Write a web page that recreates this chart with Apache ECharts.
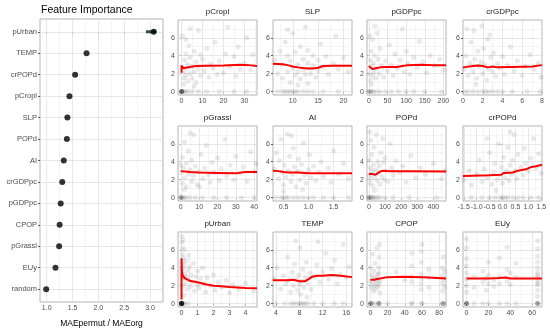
<!DOCTYPE html>
<html><head><meta charset="utf-8">
<script src="https://cdn.jsdelivr.net/npm/echarts@6/dist/echarts.min.js"></script>
<style>html,body{margin:0;padding:0;background:#fff}#c{width:550px;height:333px}</style>
</head><body><div id="c"></div>
<script>
// ---------- Feature importance (left panel) ----------
const importanceLabels = ['pUrban','TEMP','crPOPd','pCropl','SLP','POPd','AI','crGDPpc','pGDPpc','CPOP','pGrassl','EUy','random'];
const importanceValues = [3.07,1.77,1.55,1.44,1.40,1.39,1.33,1.30,1.27,1.25,1.24,1.17,0.99];
const importanceErrLow  = [2.92,null,null,null,null,null,null,null,null,null,null,null,null];
const importanceErrHigh = [3.12,null,null,null,null,null,null,null,null,null,null,null,null];
const importanceTicks = [1,1.5,2,2.5,3];
const importanceMinor = [1.25,1.75,2.25,2.75];

// ---------- Effect panels ----------
const panelNames = ['pCropl','SLP','pGDPpc','crGDPpc','pGrassl','AI','POPd','crPOPd','pUrban','TEMP','CPOP','EUy'];
const panelXRange = [[-1.7,36],[6.1,21.7],[-5,207],[0,8],[-1.5,41.5],[0.29,1.87],[-12,478],[-1.53,1.53],[-0.22,4.72],[3.5,17],[-4,88],[-3.2,69]];
const panelXTicks = [[0,10,20,30],[10,15,20],[0,50,100,150,200],[0,2,4,6,8],[0,10,20,30,40],[0.5,1,1.5],[0,100,200,300,400],[-1.5,-1,-0.5,0,0.5,1,1.5],[0,1,2,3,4],[4,8,12,16],[0,20,40,60,80],[0,20,40,60]];
const panelXMinor = [[5,15,25,35],[7.5,12.5,17.5],[25,75,125,175],[1,3,5,7],[5,15,25,35],[0.75,1.25,1.75],[50,150,250,350,450],[-1.25,-0.75,-0.25,0.25,0.75,1.25],[0.5,1.5,2.5,3.5,4.5],[6,10,14],[10,30,50,70],[10,30,50]];
const panelXDecimals = [0,0,0,0,0,1,0,1,0,0,0,0];
const panelYRange = [-0.38,7.98];
const panelYTicks = [0,2,4,6];
const panelYMinor = [1,3,5,7];

const curve_pCropl = [[0,2.1],[0,2.9],[0.5,2.85],[1,2.6],[2,2.65],[4,2.75],[7,2.85],[12,2.88],[20,2.9],[28,3.0],[32,2.95],[36,2.85]];
const curve_SLP = [[6.1,3.1],[8,3.05],[9,2.95],[10,2.8],[11,2.7],[12,2.62],[13,2.58],[14,2.58],[15,2.65],[16,2.85],[18,2.88],[21.7,2.88]];
const curve_pGDPpc = [[0,2.85],[5,2.7],[10,2.5],[18,2.6],[30,2.7],[50,2.75],[75,2.75],[90,2.85],[105,2.95],[140,3.0],[170,2.95],[207,2.95]];
const curve_crGDPpc = [[0,2.7],[1,2.85],[1.5,2.9],[2,2.85],[2.5,2.7],[3,2.8],[3.5,2.7],[5,2.75],[7,2.8],[8,2.95]];
const curve_pGrassl = [[0,2.95],[1,2.85],[5,2.85],[10,2.8],[20,2.75],[30,2.7],[35,2.85],[41.5,2.85]];
const curve_AI = [[0.29,3.0],[0.4,2.95],[0.5,2.85],[0.6,2.8],[0.8,2.8],[1.0,2.72],[1.3,2.7],[1.87,2.7]];
const curve_POPd = [[0,2.6],[15,2.65],[40,2.55],[70,2.9],[90,3.0],[120,2.95],[250,2.95],[478,2.9]];
const curve_crPOPd = [[-1.53,2.4],[-0.5,2.5],[-0.05,2.55],[0.05,2.75],[0.4,2.8],[0.6,3.0],[0.9,3.15],[1.1,3.4],[1.3,3.5],[1.53,3.65]];
const curve_pUrban = [[0,0.45],[0,5.05],[0.03,3.5],[0.08,3.1],[0.2,2.85],[0.5,2.55],[1,2.37],[1.5,2.15],[2,2.0],[2.5,1.92],[3,1.85],[4,1.75],[4.72,1.7]];
const curve_TEMP = [[3.5,2.6],[6,2.6],[7,2.65],[8,2.5],[9,2.5],[9.5,2.7],[10.2,3.0],[11,3.1],[12,3.1],[13.5,3.2],[15,3.1],[17,2.95]];
const curve_CPOP = [[0,2.65],[2,2.6],[5,2.65],[8,2.75],[10,2.9],[20,2.95],[40,3.0],[60,2.95],[68,2.9],[69,2.8],[88,2.8]];
const curve_EUy = [[0,2.8],[20,2.8],[30,2.85],[36,2.9],[40,2.8],[65,2.8],[69,2.8]];

const pts_pCropl = [[0,0],[0,0],[0,0],[0,0],[0,0],[0,0],[0,0],[0,0],[0.5,0],[1,0],[2,0],[3,0],[5,0],[8,0],[12,0],[18,0],[25,0],[31,0],
[0.5,6.2],[1,1.5],[1,2.2],[1.5,3.5],[2,1.8],[2,4.2],[2.5,2.6],[3,1.2],[3,3.0],[3.5,5.1],[4,2.0],[4,3.8],[5,1.5],[5,2.8],[6,4.5],[6,2.2],[7,1.0],[7,3.3],[8,2.5],[8,6.8],[9,1.8],[10,3.6],[11,2.3],[12,4.8],[13,1.6],[14,3.1],[15,2.6],[16,5.5],[17,1.9],[18,3.4],[20,2.1],[21,4.2],[22,7.2],[23,2.8],[25,3.9],[26,1.7],[27,5.0],[28,2.5],[30,3.2],[31,6.0],[33,2.4],[34,4.1],[1,0.8],[2,5.8],[4,7.0],[6,0.6],[9,4.1]];
const pts_SLP = [[7,0],[8,0],[8.5,0],[9,0],[9.5,0],[10,0],[10.5,0],[11,0],[12,0],[13,0],[14,0],[16,0],[19,0],
[6.5,3.5],[7,2.0],[7.5,4.5],[8,1.5],[8,3.0],[8.5,5.5],[9,2.2],[9,4.0],[9.5,1.0],[9.5,3.4],[10,2.6],[10,6.5],[10.5,1.8],[10.5,4.4],[11,3.0],[11,2.2],[11.5,5.0],[11.5,1.4],[12,3.6],[12,2.4],[12.5,7.2],[12.5,1.9],[13,3.2],[13,4.6],[13.5,2.0],[14,2.9],[14,4.0],[14.5,1.6],[15,3.5],[15,2.3],[15.5,5.3],[16,2.7],[16.5,3.9],[17,1.9],[18,3.1],[18.5,6.2],[19,2.5],[20,3.8],[21,2.2],[9,6.9],[11,0.7],[13,0.9]];
const pts_pGDPpc = [[0,0],[2,0],[5,0],[8,0],[12,0],[20,0],[30,0],[45,0],[60,0],[80,0],[100,0],[120,0],[150,0],[195,0],
[2,2.0],[4,3.5],[5,1.2],[6,4.5],[8,2.8],[10,1.8],[10,5.8],[12,3.2],[14,2.2],[15,4.0],[18,1.5],[20,2.6],[22,6.5],[25,3.6],[28,2.0],[30,4.8],[35,2.9],[40,1.6],[45,3.4],[50,2.3],[55,5.2],[60,3.0],[65,1.8],[70,4.2],[75,2.6],[85,3.5],[90,7.0],[95,2.2],[100,4.5],[105,3.1],[110,1.9],[120,3.8],[130,2.7],[135,5.6],[145,3.3],[155,2.1],[165,4.0],[175,2.9],[190,3.6],[200,2.4],[3,6.2],[7,0.8],[16,7.3]];
const pts_crGDPpc = [[0.2,0],[0.5,0],[1,0],[1.5,0],[2,0],[2.3,0],[2.6,0],[3,0],[3.5,0],[4,0],[5,0],[6.5,0],[7.8,0],
[0.1,2.5],[0.3,4.0],[0.5,1.8],[0.7,3.2],[0.8,5.5],[1,2.2],[1.1,6.8],[1.2,3.6],[1.4,1.5],[1.5,4.5],[1.6,2.8],[1.8,3.3],[1.9,7.3],[2,2.0],[2.1,4.8],[2.2,3.0],[2.4,1.3],[2.5,5.8],[2.6,2.5],[2.8,3.8],[3,2.2],[3.1,4.3],[3.3,1.7],[3.5,3.1],[3.7,2.6],[4,3.9],[4.2,1.9],[4.5,2.9],[4.8,5.0],[5.2,2.3],[5.5,3.4],[6,1.8],[6.3,2.8],[6.8,4.1],[7.2,2.5],[7.6,3.2],[7.9,1.6],[1.3,0.8],[2.7,6.3],[0.4,7.0]];
const pts_pGrassl = [[0,0],[0,0],[0,0],[0.5,0],[1,0],[2,0],[3,0],[5,0],[8,0],[12,0],[18,0],[25,0],[33,0],[40,0],
[0.5,2.8],[1,4.5],[1,1.6],[1.5,3.3],[2,6.2],[2,2.2],[3,3.8],[3,1.2],[4,2.6],[4,5.2],[5,3.1],[6,1.8],[6,4.2],[7,2.4],[7,7.0],[8,3.5],[9,1.5],[10,2.9],[10,1.2],[11,4.8],[12,2.1],[13,3.3],[14,5.8],[15,2.5],[16,1.7],[17,3.9],[18,2.8],[20,4.4],[21,1.9],[22,3.2],[24,6.5],[25,2.4],[27,3.6],[29,2.0],[30,4.6],[32,2.7],[34,3.4],[36,1.8],[38,5.1],[40,2.9],[41,3.8],[0,3.6],[2,0.9],[5,7.2]];
const pts_AI = [[0.35,0],[0.45,0],[0.5,0],[0.55,0],[0.6,0],[0.7,0],[0.8,0],[0.9,0],[1.0,0],[1.1,0],[1.3,0],[1.5,0],[1.8,0],
[0.32,3.2],[0.36,5.0],[0.4,2.1],[0.42,4.1],[0.45,6.5],[0.48,2.8],[0.5,1.4],[0.52,3.6],[0.55,2.3],[0.58,7.1],[0.6,3.0],[0.62,4.6],[0.65,1.8],[0.68,2.6],[0.7,5.5],[0.72,3.4],[0.75,1.2],[0.78,2.9],[0.8,4.3],[0.83,2.0],[0.86,3.7],[0.9,6.1],[0.92,2.5],[0.95,1.6],[1.0,3.1],[1.02,4.8],[1.05,2.2],[1.1,3.5],[1.15,1.9],[1.2,2.8],[1.25,4.0],[1.3,2.4],[1.4,3.3],[1.45,1.7],[1.5,5.2],[1.6,2.6],[1.7,3.8],[1.8,2.1],[0.5,0.7],[0.66,6.9],[0.88,0.9]];
const pts_POPd = [[0,0],[0,0],[3,0],[8,0],[15,0],[22,0],[30,0],[40,0],[55,0],[70,0],[100,0],[150,0],[250,0],[420,0],
[2,2.5],[5,4.2],[8,1.6],[10,3.3],[12,6.4],[15,2.1],[18,4.8],[20,2.9],[25,1.3],[28,3.7],[30,5.6],[35,2.4],[40,3.1],[45,7.0],[50,1.9],[55,4.0],[60,2.7],[65,3.5],[70,1.5],[75,5.0],[80,2.3],[90,3.9],[95,2.0],[100,4.4],[110,3.0],[120,1.8],[130,6.0],[140,3.3],[150,2.5],[170,4.1],[190,2.8],[210,3.5],[230,1.7],[260,4.7],[290,2.2],[320,3.3],[350,2.6],[400,3.8],[450,2.1],[470,3.0],[6,7.3],[33,0.8],[85,6.6]];
const pts_crPOPd = [[-1.2,0],[-0.8,0],[-0.5,0],[-0.3,0],[-0.1,0],[0,0],[0.1,0],[0.2,0],[0.4,0],[0.6,0],[0.8,0],[1.1,0],[1.4,0],
[-1.5,2.0],[-1.3,3.0],[-1.2,1.4],[-1.0,2.6],[-0.9,4.2],[-0.8,1.8],[-0.7,3.2],[-0.6,2.2],[-0.5,5.0],[-0.4,1.5],[-0.35,2.8],[-0.3,3.8],[-0.2,2.0],[-0.15,6.0],[-0.1,2.5],[-0.05,3.4],[0,1.6],[0.05,4.5],[0.1,2.2],[0.15,3.0],[0.2,5.6],[0.25,1.9],[0.3,3.6],[0.35,2.6],[0.4,4.2],[0.45,7.0],[0.5,3.0],[0.55,2.1],[0.6,4.8],[0.7,3.4],[0.8,2.5],[0.85,5.5],[0.9,3.8],[1.0,2.9],[1.1,4.4],[1.2,6.6],[1.3,3.3],[1.4,4.9],[1.5,2.7],[-0.25,0.8],[0.3,7.3],[-0.6,6.6]];
const pts_pUrban = [[0,0],[0,0],[0,0],[0,0],[0,0],[0,0],[0,0],[0,0],[0,0],[0,0],[0,0],[0,0],[0,0],[0,0],[0,0],[0,0],[0,0],[0,0],[0,0],[0,0],[0.02,0],[0.05,0],[0.1,0],[0.2,0],[0.4,0],
[0.02,7.5],[0.03,6.8],[0.05,5.5],[0.05,6.2],[0.08,4.6],[0.1,7.1],[0.1,3.9],[0.12,5.1],[0.15,2.8],[0.18,4.3],[0.2,6.0],[0.2,3.3],[0.25,2.2],[0.3,4.8],[0.3,3.0],[0.35,1.6],[0.4,3.7],[0.45,5.4],[0.5,2.6],[0.5,4.1],[0.55,1.9],[0.6,3.2],[0.7,2.4],[0.75,4.5],[0.8,1.4],[0.9,3.0],[1.0,2.1],[1.0,3.6],[1.1,1.7],[1.2,2.8],[1.3,4.0],[1.4,2.2],[1.5,1.3],[1.6,2.9],[1.8,2.0],[2.0,3.2],[2.1,1.5],[2.3,2.4],[2.5,1.8],[2.8,2.6],[3.0,1.2],[3.2,2.1],[3.6,1.6],[4.0,2.3],[4.5,1.4],[0.15,0.9],[0.05,3.0],[0.08,2.0]];
const pts_TEMP = [[4,0],[5.5,0],[6.5,0],[7,0],[7.5,0],[8,0],[8.3,0],[8.7,0],[9,0],[9.5,0],[10.5,0],[12,0],[14,0],[15.5,0],
[3.7,2.8],[4.2,4.0],[4.8,1.6],[5.3,3.1],[5.7,2.2],[6,5.2],[6.2,2.6],[6.5,1.3],[6.8,3.5],[7,2.0],[7.2,4.4],[7.5,2.7],[7.7,1.5],[7.9,3.2],[8,2.1],[8.1,6.2],[8.2,1.0],[8.4,2.5],[8.6,3.8],[8.8,1.8],[9,2.9],[9.2,4.6],[9.5,2.3],[9.8,3.4],[10,1.6],[10.5,3.0],[11,4.3],[11.5,2.4],[12,3.5],[12.5,5.6],[13,2.7],[13.5,3.9],[14,4.8],[14.5,2.2],[15,3.3],[15.5,6.6],[16,2.9],[16.5,4.1],[7.4,7.0],[9.3,0.7],[11.2,6.9]];
const pts_CPOP = [[0,0],[0,0],[0,0],[0,0],[1,0],[2,0],[5,0],[9,0],[10,0],[10,0],[10,0],[10,0],[20,0],[48,0],[48,0],[60,0],[60,0],[84,0],[84,0],[84,0],[85,0],[86,0],
[0,2.5],[0.5,4.0],[1,1.8],[1.5,3.2],[2,2.2],[2.5,5.5],[3,2.8],[3.5,1.4],[4,3.6],[4.5,2.0],[5,2.6],[5.5,4.5],[6,1.6],[6.5,3.0],[7,2.3],[7.5,6.2],[8,1.9],[8.5,3.3],[9,2.7],[9.5,4.0],[10,2.1],[10,3.4],[10,5.2],[10.5,6.6],[11,2.5],[11,1.2],[48,2.4],[48,4.2],[48,5.6],[48,3.0],[59,2.2],[59,3.3],[59,4.6],[59,5.8],[59,1.6],[60,2.8],[60,6.6],[68,2.9],[68,3.8],[68,1.8],[84,1.4],[84,2.3],[84,3.1],[84,4.0],[85,2.7],[85,5.2],[86,3.6],[86,1.9],[30,3.5],[40,2.6]];
const pts_EUy = [[0,0],[0,0],[0,0],[0,0],[0,0],[0,0],[7,0],[15,0],[20,0],[30,0],[37,0],[45,0],[65,0],[65,0],[65,0],[65,0],[65,0],
[0,1.3],[0,2.0],[0,2.7],[0,3.4],[0,4.2],[0,5.0],[0,6.2],[0,7.2],[7,3.0],[7,1.8],[15,2.4],[15,3.6],[18,1.5],[18,2.8],[20,2.2],[20,3.2],[20,4.6],[25,2.6],[25,1.9],[30,3.0],[30,2.2],[30,5.1],[37,2.5],[37,3.8],[37,6.3],[40,2.1],[40,3.4],[45,2.9],[45,4.5],[65,0.8],[65,1.5],[65,2.1],[65,2.6],[65,3.0],[65,3.5],[65,4.0],[65,4.6],[65,5.3],[65,6.1],[65,7.0],[65,2.3],[65,3.2]];

const panelCurves = [curve_pCropl,curve_SLP,curve_pGDPpc,curve_crGDPpc,curve_pGrassl,curve_AI,curve_POPd,curve_crPOPd,curve_pUrban,curve_TEMP,curve_CPOP,curve_EUy];
const panelPoints = [pts_pCropl,pts_SLP,pts_pGDPpc,pts_crGDPpc,pts_pGrassl,pts_AI,pts_POPd,pts_crPOPd,pts_pUrban,pts_TEMP,pts_CPOP,pts_EUy];

// ---------- layout ----------
const FONT = 'Liberation Sans, Arial, sans-serif';
const MAJOR = '#dcdcdc', MINOR = '#ededed', BORDER = '#b3b3b3', LABEL = '#4d4d4d';
const colLeft = [178, 273, 367, 463], rowTop = [20, 126, 232], PW = 79, PH = 75;

const grids = [], xAxes = [], yAxes = [], series = [], titles = [];
function vLines(major, minor){
  return minor.map(v=>({xAxis:v, lineStyle:{color:MINOR,width:0.6,type:'solid'}})).concat(major.map(v=>({xAxis:v, lineStyle:{color:MAJOR,width:0.7,type:'solid'}})));
}
function hLines(major, minor){
  return minor.map(v=>({yAxis:v, lineStyle:{color:MINOR,width:0.6,type:'solid'}})).concat(major.map(v=>({yAxis:v, lineStyle:{color:MAJOR,width:0.7,type:'solid'}})));
}
const mlBase = {silent:true, symbol:'none', label:{show:false}, animation:false, z:1, lineStyle:{type:'solid'}};

titles.push({text:'Feature Importance', left:41, top:5, padding:0, textStyle:{fontFamily:FONT, fontSize:10.5, fontWeight:'normal', color:'#000'}});
grids.push({left:40, top:19, width:123, height:288, show:true, borderColor:BORDER, borderWidth:1});
const catIdx = importanceLabels.map((_,i)=>i);
xAxes.push({gridIndex:0, type:'value', min:0.87, max:3.25,
  axisLine:{show:false}, splitLine:{show:false},
  axisTick:{show:true, customValues:importanceTicks, length:2, lineStyle:{color:'#333', width:0.8}},
  axisLabel:{customValues:importanceTicks, formatter:v=>v.toFixed(1), fontSize:7, color:LABEL, margin:3, fontFamily:FONT},
  name:'MAEpermut / MAEorg', nameLocation:'middle', nameGap:17, nameTextStyle:{fontSize:8.5, color:'#000', fontFamily:FONT}});
yAxes.push({gridIndex:0, type:'value', inverse:true, min:-0.6, max:12.6,
  axisLine:{show:false}, splitLine:{show:false},
  axisTick:{show:true, customValues:catIdx, length:2, lineStyle:{color:'#333', width:0.8}},
  axisLabel:{customValues:catIdx, formatter:v=>importanceLabels[Math.round(v)], fontSize:7.5, color:LABEL, margin:3, fontFamily:FONT}});
series.push({type:'scatter', xAxisIndex:0, yAxisIndex:0, symbolSize:6, itemStyle:{color:'#000'}, z:4,
  data: importanceValues.map((v,i)=>[v,i]),
  markLine:Object.assign({}, mlBase, {data: vLines(importanceTicks, importanceMinor).concat(hLines(catIdx, []))})});
importanceErrLow.forEach((lo,i)=>{
  if(lo==null) return;
  series.push({type:'line', xAxisIndex:0, yAxisIndex:0, showSymbol:false, symbol:'none', z:3,
    lineStyle:{color:'#2f4f4f', width:3}, data:[[lo,i],[importanceErrHigh[i],i]]});
});

panelNames.forEach((name,p)=>{
  const gi = p+1;
  const L = colLeft[p%4], T = rowTop[Math.floor(p/4)];
  grids.push({left:L, top:T, width:PW, height:PH, show:true, borderColor:BORDER, borderWidth:1});
  titles.push({text:name, left:L+PW/2, top:T-12, padding:0, textAlign:'center', textStyle:{fontFamily:FONT, fontSize:8, fontWeight:'normal', color:'#1a1a1a'}});
  const dec = panelXDecimals[p];
  xAxes.push({gridIndex:gi, type:'value', min:panelXRange[p][0], max:panelXRange[p][1],
    axisLine:{show:false}, splitLine:{show:false},
    axisTick:{show:true, customValues:panelXTicks[p], length:2, lineStyle:{color:'#333', width:0.8}},
    axisLabel:{customValues:panelXTicks[p], formatter:v=>v.toFixed(dec), fontSize:7, color:LABEL, margin:3, fontFamily:FONT}});
  yAxes.push({gridIndex:gi, type:'value', min:panelYRange[0], max:panelYRange[1],
    axisLine:{show:false}, splitLine:{show:false},
    axisTick:{show:true, customValues:panelYTicks, length:2, lineStyle:{color:'#333', width:0.8}},
    axisLabel:{customValues:panelYTicks, fontSize:7, color:LABEL, margin:3, fontFamily:FONT}});
  series.push({type:'scatter', xAxisIndex:gi, yAxisIndex:gi, symbolSize:5, z:2,
    itemStyle:{color:'rgba(0,0,0,0.11)'}, data:panelPoints[p],
    markLine:Object.assign({}, mlBase, {data: vLines(panelXTicks[p], panelXMinor[p]).concat(hLines(panelYTicks, panelYMinor))})});
  series.push({type:'line', xAxisIndex:gi, yAxisIndex:gi, showSymbol:false, symbol:'none', z:3,
    lineStyle:{color:'#ff0000', width:2}, data:panelCurves[p]});
});

const chart = echarts.init(document.getElementById('c'), null, {renderer:'canvas'});
chart.setOption({animation:false, backgroundColor:'#fff', title:titles, grid:grids, xAxis:xAxes, yAxis:yAxes, series:series});
</script></body></html>
